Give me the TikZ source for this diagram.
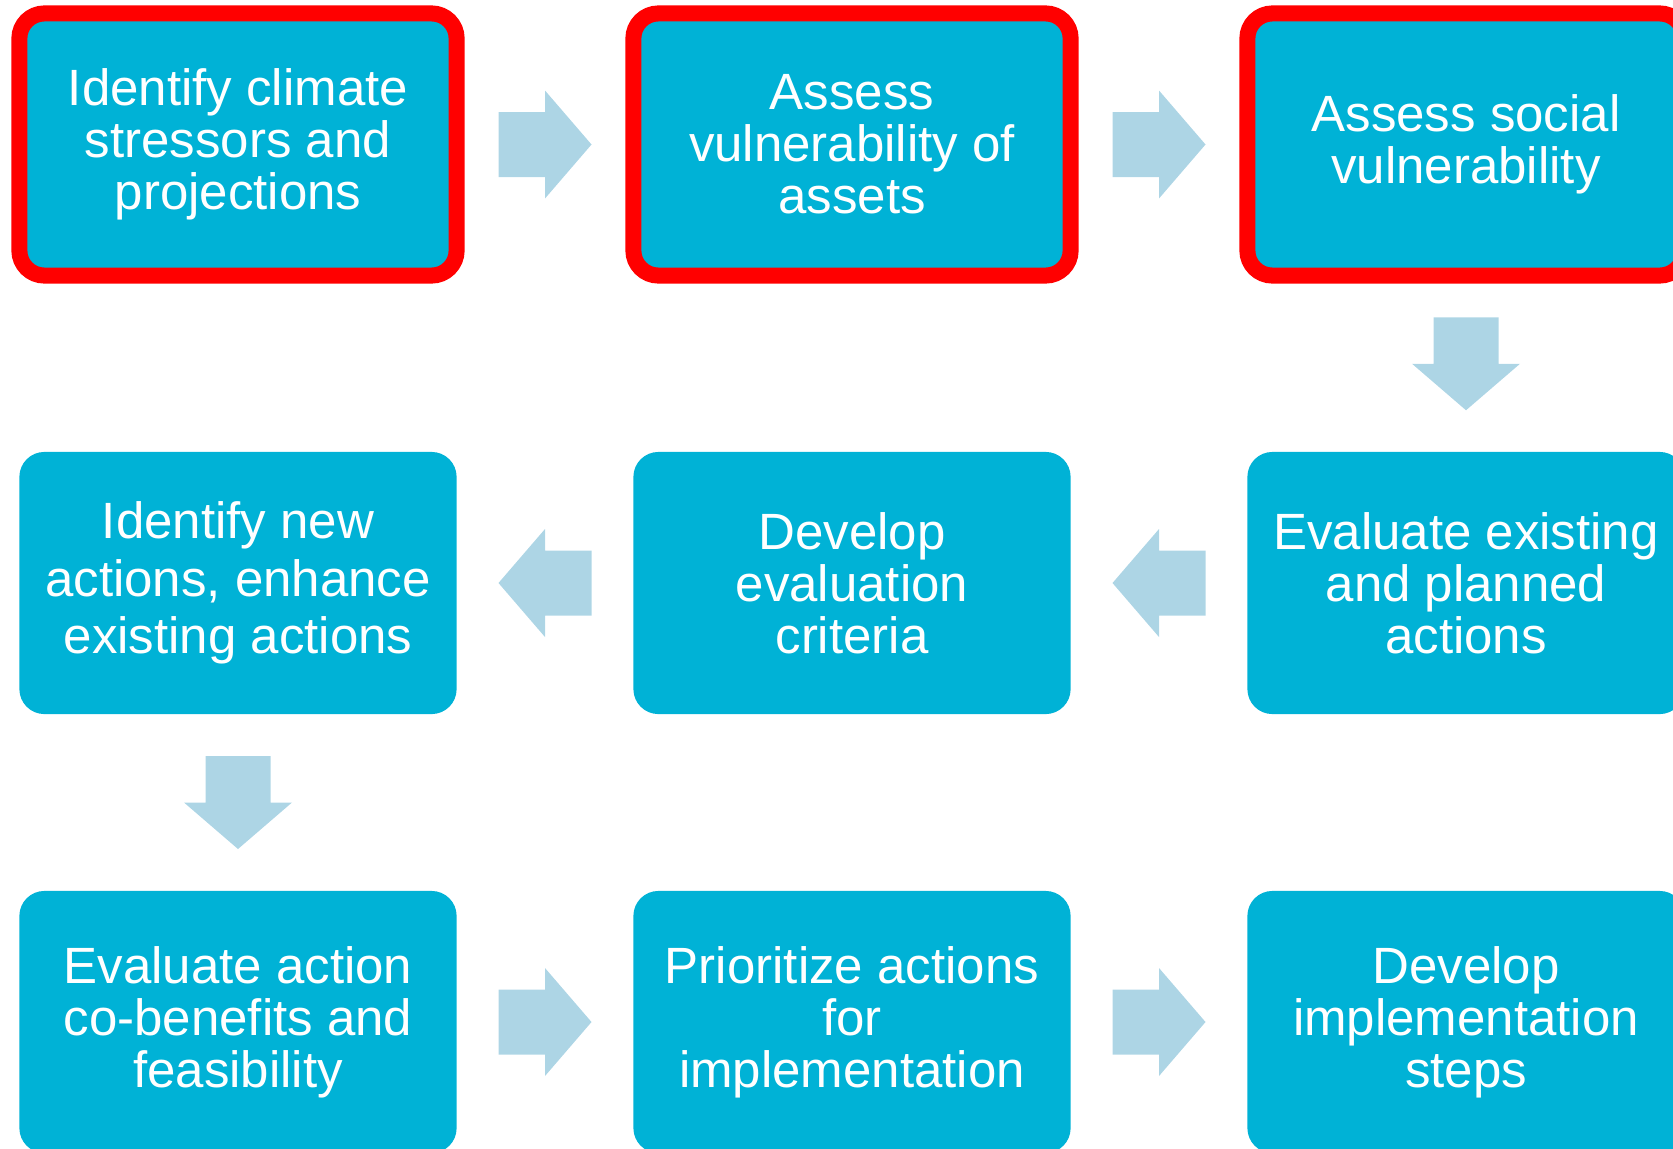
\documentclass[tikz,border=0pt]{standalone}
\usepackage{fontspec}
\setmainfont{Liberation Sans}
\usetikzlibrary{calc}

\definecolor{stepblue}{RGB}{0,178,214}
\definecolor{arrowblue}{RGB}{173,213,229}
\definecolor{markred}{RGB}{255,0,0}

\tikzset{
    stepbox/.style={fill=stepblue, rounded corners=0.25cm, minimum width=4.37cm,
        minimum height=2.62cm, inner sep=0pt, text=white, align=center,
        font=\fontsize{14.5}{14.8}\selectfont},
    markedbox/.style={stepbox, draw=markred, line width=0.16cm},
}

\begin{document}
\begin{tikzpicture}[x=0.01cm,y=0.01cm]
    % Parameters
    \def\colA{238} \def\colB{852} \def\colC{1466} % column centres
    \def\rowA{-144.5} \def\rowB{-583} \def\rowC{-1022} % row centres
    \def\shaftLen{46.5} % half length of a block arrow
    \def\shaftW{32.5} % half width of the shaft
    \def\headW{54} % half width of the head

    \useasboundingbox (0,0) rectangle (1673,-1148);
    \clip (0,0) rectangle (1673,-1148);

    % First row, the marked steps
    \node[markedbox] (climate) at (\colA,\rowA) {Identify climate\\stressors and\\projections};
    \node[markedbox] (assets) at (\colB,\rowA) {Assess\\vulnerability of\\assets};
    \node[markedbox] (social) at (\colC,\rowA) {Assess social\\vulnerability};

    % Second row
    \node[stepbox] (existing) at (\colC,\rowB) {Evaluate existing\\and planned\\actions};
    \node[stepbox] (criteria) at (\colB,\rowB) {Develop\\evaluation\\criteria};
    \node[stepbox, font=\fontsize{14.5}{16.4}\selectfont] (newacts) at (\colA,\rowB) {Identify new\\actions, enhance\\existing actions};

    % Third row
    \node[stepbox] (cobenefits) at (\colA,\rowC) {Evaluate action\\co-benefits and\\feasibility};
    \node[stepbox] (prioritize) at (\colB,\rowC) {Prioritize actions\\for\\implementation};
    \node[stepbox] (steps) at (\colC,\rowC) {Develop\\implementation\\steps};

    % Block arrows between the steps
    \foreach \from/\to/\ang in {climate/assets/0, assets/social/0, social/existing/-90,
        existing/criteria/180, criteria/newacts/180, newacts/cobenefits/-90,
        cobenefits/prioritize/0, prioritize/steps/0} {
        \begin{scope}[shift={($(\from)!0.5!(\to)$)},rotate=\ang]
            \fill[arrowblue] (-\shaftLen,-\shaftW) -- (0,-\shaftW) -- (0,-\headW)
                -- (\shaftLen,0) -- (0,\headW) -- (0,\shaftW) -- (-\shaftLen,\shaftW) -- cycle;
        \end{scope}
    }
\end{tikzpicture}
\end{document}
